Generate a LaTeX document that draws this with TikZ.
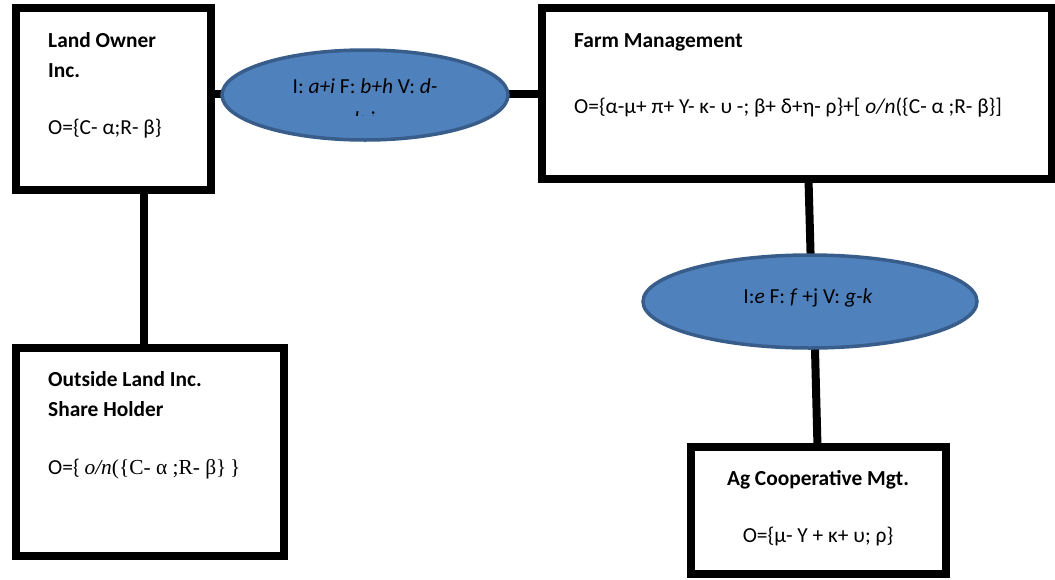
\documentclass[tikz,border=0pt]{standalone}
\usepackage{fontspec}
\setmainfont{Carlito}
\newfontfamily\tnr{Liberation Serif}
\usetikzlibrary{shapes.geometric}
\definecolor{ellfill}{HTML}{4F81BD}
\definecolor{elledge}{HTML}{385D8A}
\tikzset{
  box/.style={draw=black, line width=8pt, fill=white, rectangle, inner sep=0pt, outer sep=0pt},
  oval/.style={draw=elledge, line width=3.5pt, fill=ellfill, ellipse, inner sep=0pt, outer sep=0pt},
  conn/.style={draw=black, line width=8pt},
  txt/.style={inner sep=0pt, anchor=base west, font=\fontsize{21.4}{30}\selectfont},
  ctxt/.style={inner sep=0pt, anchor=base, font=\fontsize{21.4}{30}\selectfont},
}
\begin{document}
\begin{tikzpicture}[x=1pt, y=-1pt]
\useasboundingbox (0,0) rectangle (1055,579);
\coordinate (c4) at (811,270);
\coordinate (c5) at (814.5,330);
% boxes
\node[box, minimum width=195pt, minimum height=182pt] (land) at (113.5,99) {};
\node[box, minimum width=510pt, minimum height=171pt] (farm) at (797,93.5) {};
\node[box, minimum width=268pt, minimum height=208.5pt] (outside) at (150,451.75) {};
\node[box, minimum width=255pt, minimum height=127pt] (ag) at (818.5,510.5) {};
% connectors
\draw[conn] (land.east |- 0,94) -- (farm.west |- 0,94);
\draw[conn] ([xshift=30.5pt]land.south) -- ([xshift=-6pt]outside.north);
\draw[conn] ([xshift=11.5pt]farm.south) -- (c4);
\draw[conn] (c5) -- ([xshift=-1pt]ag.north);
% redraw box borders over connector ends
\node[box, fill=none, minimum width=195pt, minimum height=182pt] at (113.5,99) {};
\node[box, fill=none, minimum width=510pt, minimum height=171pt] at (797,93.5) {};
\node[box, fill=none, minimum width=268pt, minimum height=208.5pt] at (150,451.75) {};
\node[box, fill=none, minimum width=255pt, minimum height=127pt] at (818.5,510.5) {};
% ellipses
\node[oval, minimum width=286pt, minimum height=90pt] (e1) at (365,95) {};
\node[oval, minimum width=334pt, minimum height=93pt] (e2) at (810,301.5) {};
% texts
\node[txt] (t1) at (48,47) {\textbf{Land Owner}};
\node[txt] (t2) at (48,77) {\textbf{Inc.}};
\node[txt] (t3) at (48,134) {O=\{C- α;R- β\}};
\node[txt] (t4) at (574,47) {\textbf{Farm Management}};
\node[txt] (t5) at (574,113) {O=\{α-μ+ π+ Υ- κ- υ -; β+ δ+η- ρ\}+[ \textit{o/n}(\{C- α ;R- β\}]};
\node[txt] (t6) at (48,386) {\textbf{Outside Land Inc.}};
\node[txt] (t7) at (48,416) {\textbf{Share Holder}};
\node[txt] (t8) at (48,474) {O=\{ {\tnr\textit{o/n}(\{C- α ;R- β\}\,\}}};
\node[ctxt] (t9) at (818,485) {\textbf{Ag Cooperative Mgt.}};
\node[ctxt] (t10) at (818,542) {O=\{μ- Υ + κ+ υ; ρ\}};
\node[ctxt] (t11) at (365,93) {I: \textit{a+i} F: \textit{b+h} V: \textit{d-}};
\begin{scope}
\clip (300,100) rectangle (430,115.5);
\node[ctxt] (t12) at (365,126) {\textit{k}-j};
\end{scope}
\node[ctxt] (t13) at (808,303) {I:\textit{e} F: \textit{f} +j V: \textit{g-k}};
\end{tikzpicture}
\end{document}
